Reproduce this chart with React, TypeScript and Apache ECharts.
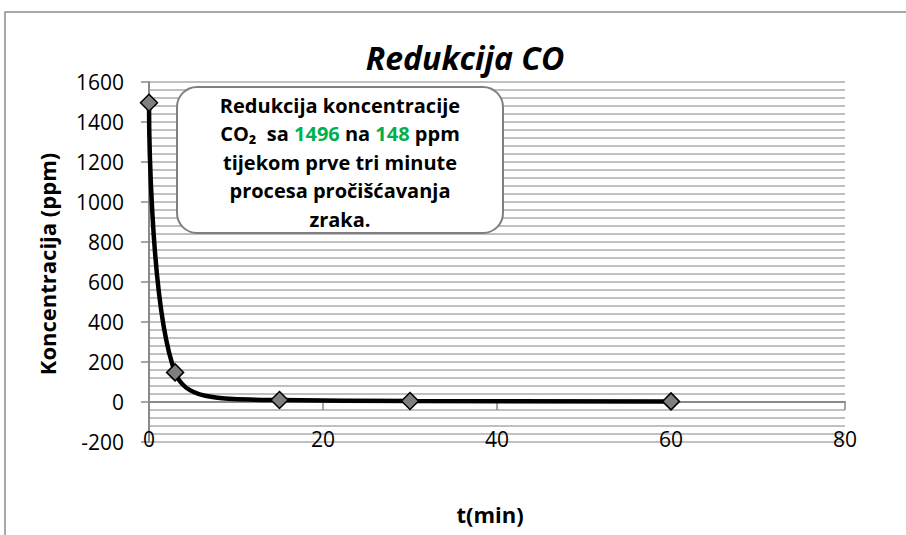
import React, { useEffect, useRef } from "react";
import * as echarts from "echarts";

const tMinutes = [0, 3, 15, 30, 60];
const concentration = [1496, 148, 10, 5, 3];
const yTicks = { min: -200, max: 1600, interval: 200 };
const xTicks = { min: 0, max: 80, interval: 20 };
const chartTitle = "Redukcija CO";
const yName = "Koncentracija (ppm)";
const xName = "t(min)";
const noteLines = [
  "Redukcija koncentracije",
  "CO₂  sa {g|1496} na {g|148} ppm",
  "tijekom prve tri minute",
  "procesa pročišćavanja",
  "zraka.",
];

const FONT = "'Open Sans', 'Noto Sans', sans-serif";
const GRID_COLOR = "#c0c0c0";
const AXIS_COLOR = "#8a8a8a";

export default function App() {
  const ref = useRef<HTMLDivElement>(null);
  useEffect(() => {
    document.body.style.margin = "0";
    const chart = echarts.init(ref.current!, null, { renderer: "svg" });
    const data = tMinutes.map((t, i) => [t, concentration[i]]);
    chart.setOption({
      animation: false,
      backgroundColor: "#ffffff",
      grid: { left: 149, right: 61, top: 82, bottom: 93 },
      xAxis: {
        type: "value",
        min: xTicks.min,
        max: xTicks.max,
        interval: xTicks.interval,
        axisLine: { show: true, onZero: true, lineStyle: { color: AXIS_COLOR, width: 2 } },
        axisTick: { show: true, inside: false, length: 8, lineStyle: { color: AXIS_COLOR, width: 1.5 } },
        axisLabel: {
          color: "#000",
          fontFamily: FONT,
          fontSize: 21,
          margin: -14,
          formatter: (v: number) => String(v),
        },
        splitLine: { show: false },
      },
      yAxis: {
        type: "value",
        min: yTicks.min,
        max: yTicks.max,
        interval: yTicks.interval,
        axisLine: { show: true, onZero: false, lineStyle: { color: AXIS_COLOR, width: 2 } },
        axisTick: { show: true, length: 8, lineStyle: { color: AXIS_COLOR, width: 1.5 } },
        axisLabel: {
          color: "#000",
          fontFamily: FONT,
          fontSize: 21,
          margin: 25,
          formatter: (v: number) => String(v),
        },
        splitLine: { show: true, lineStyle: { color: GRID_COLOR, width: 2 } },
        minorTick: { show: false, splitNumber: 5 },
        minorSplitLine: { show: true, lineStyle: { color: GRID_COLOR, width: 2 } },
      },
      series: [
        {
          type: "line",
          data,
          smooth: 0.6,
          symbol: "diamond",
          symbolSize: 17,
          lineStyle: { color: "#000", width: 4.5 },
          itemStyle: { color: "#7f7f7f", borderColor: "#000", borderWidth: 1.5 },
          z: 5,
        },
      ],
      graphic: [
        {
          type: "rect",
          z: -10,
          silent: true,
          shape: { x: 5, y: 12, width: 1000, height: 600 },
          style: { fill: "none", stroke: "#8c8c8c", lineWidth: 1.5 },
        },
        {
          type: "text",
          x: 465,
          y: 57,
          style: {
            text: chartTitle,
            fontFamily: FONT,
            fontSize: 32,
            fontWeight: "bold",
            fontStyle: "italic",
            fill: "#000",
            align: "center",
            verticalAlign: "middle",
          },
        },
        {
          type: "text",
          x: 47,
          y: 264,
          rotation: Math.PI / 2,
          style: {
            text: yName,
            fontFamily: FONT,
            fontSize: 22,
            fontWeight: "bold",
            fill: "#000",
            align: "center",
            verticalAlign: "middle",
          },
        },
        {
          type: "text",
          x: 490,
          y: 514,
          style: {
            text: xName,
            fontFamily: FONT,
            fontSize: 22,
            fontWeight: "bold",
            fill: "#000",
            align: "center",
            verticalAlign: "middle",
          },
        },
        {
          type: "rect",
          z: 20,
          shape: { x: 177, y: 87, width: 326, height: 146, r: 20 },
          style: { fill: "#ffffff", stroke: "#7f7f7f", lineWidth: 2 },
        },
        {
          type: "text",
          z: 21,
          x: 340,
          y: 162,
          style: {
            text: noteLines.join("\n"),
            fontFamily: FONT,
            fontSize: 20,
            fontWeight: "bold",
            fill: "#000",
            align: "center",
            verticalAlign: "middle",
            lineHeight: 28.5,
            rich: {
              g: {
                fill: "#00b050",
                fontFamily: FONT,
                fontSize: 20,
                fontWeight: "bold",
                lineHeight: 28.5,
              },
            },
          },
        },
      ],
    });
    return () => chart.dispose();
  }, []);
  return (
    <div
      ref={ref}
      style={{ position: "fixed", left: 0, top: 0, width: 906, height: 535 }}
    />
  );
}
